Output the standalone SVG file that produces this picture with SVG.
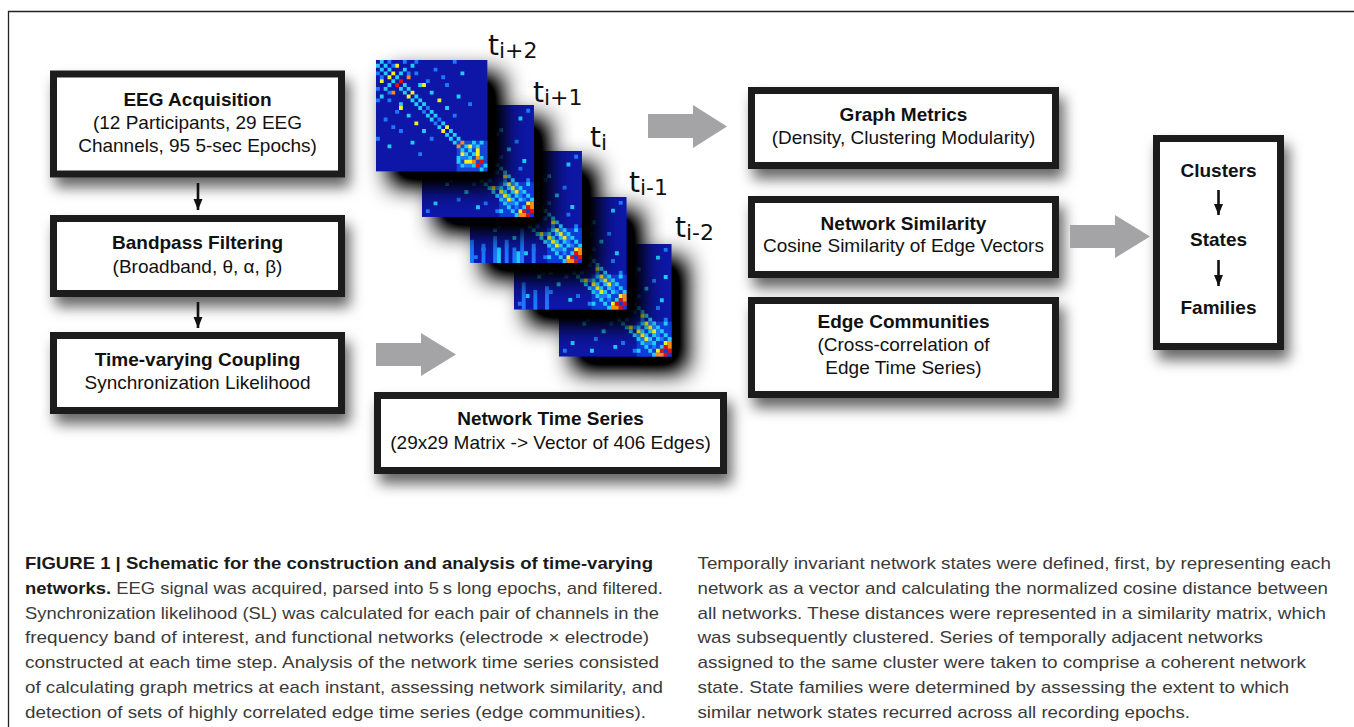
<svg xmlns="http://www.w3.org/2000/svg" xmlns:xlink="http://www.w3.org/1999/xlink" width="1354" height="727" viewBox="0 0 1354 727">
<style>
.box{fill:#fff;stroke:#1f1f1f;stroke-width:7}
.bt{font-family:"Liberation Sans",Arial,sans-serif;font-size:19px;font-weight:bold;fill:#111;text-anchor:middle}
.rt{font-family:"Liberation Sans",Arial,sans-serif;font-size:19px;fill:#111;text-anchor:middle}
.cap{font-family:"Liberation Sans Narrow","Liberation Sans",Arial,sans-serif;font-size:17px;fill:#3a3a3a}
.capb{font-weight:bold;fill:#1a1a1a}
.tl{font-family:"DejaVu Sans",Verdana,sans-serif;font-size:28px;fill:#111}
.ts{font-size:22px}
.blk{stroke:#111;stroke-width:2.6;fill:none}
.gray{fill:#a4a4a7}
.cC{stroke:#22ccff;stroke-width:1;fill:none}
.cY{stroke:#f2f020;stroke-width:1;fill:none}
.cL{stroke:#1e78ff;stroke-width:1;fill:none}
.cO{stroke:#ff8a10;stroke-width:1;fill:none}
.cR{stroke:#e81010;stroke-width:1;fill:none}
.mbg{fill:#0816a6}
</style>
<defs>
<filter id="bshadow" x="-20%" y="-30%" width="150%" height="190%">
<feDropShadow dx="5" dy="10" stdDeviation="7" flood-color="#000" flood-opacity="0.6"/>
</filter>
<filter id="mshadow" x="-25%" y="-25%" width="190%" height="190%">
<feGaussianBlur in="SourceAlpha" stdDeviation="12" result="b"/>
<feOffset in="b" dx="14" dy="14" result="o"/>
<feComponentTransfer in="o" result="s"><feFuncA type="linear" slope="1.45"/></feComponentTransfer>
<feMerge><feMergeNode in="s"/><feMergeNode in="SourceGraphic"/></feMerge>
</filter>
<marker id="ah" markerUnits="userSpaceOnUse" markerWidth="12" markerHeight="12" viewBox="0 0 12 10" refX="11" refY="5" orient="auto">
<path d="M0,0.5 L11,5 L0,9.5 z" fill="#111"/>
</marker>
<g id="patA">
<rect x="21" y="21" width="8" height="8" fill="#1244d8"/>
<path class="cL" d="M7 0.5h1M0 7.5h1M10 3.5h1M3 10.5h1M13 5.5h1M5 13.5h1M13 12.5h1M12 13.5h1M16 15.5h1M15 16.5h1M20 14.5h1M14 20.5h1M15 2.5h1M2 15.5h1M20 0.5h1M0 20.5h1M18 6.5h1M6 18.5h1M24 11.5h1M11 24.5h1M22 25.5h2M25 22.5h1M23 27.5h2M4 1.5h1M1 4.5h1M8 3.5h1M3 8.5h1M17 4.5h1M4 17.5h1M0 3.5h1M3 0.5h1M0 10.5h1M10 0.5h1"/>
<path class="cC" d="M2 1.5h1M1 2.5h1M3 2.5h1M2 3.5h1M9 1.5h1M1 9.5h1M7 2.5h1M2 7.5h1M5 4.5h1M4 5.5h1M7 6.5h1M6 7.5h1M8 7.5h1M7 8.5h1M10 9.5h1M9 10.5h1M14 8.5h1M8 14.5h1M11 10.5h1M10 11.5h1M12 11.5h1M11 12.5h1M14 13.5h1M13 14.5h1M15 14.5h1M14 15.5h1M18 12.5h1M12 18.5h1M17 16.5h1M16 17.5h1M19 18.5h1M18 19.5h1M20 19.5h1M19 20.5h1M21 20.5h1M20 21.5h1M23 22.5h1M22 23.5h1M24 23.5h1M23 24.5h1M25 24.5h1M24 25.5h1M28 27.5h1M27 28.5h1M27 25.5h1M25 27.5h1M25 21.5h1M21 25.5h1M22 3.5h1M3 22.5h1M21 9.5h1M9 21.5h1M22 27.5h1M21 26.5h1M26 22.5h1M27 21.5h1M0 1.5h1M1 0.5h1M6 3.5h1M3 6.5h1M11 6.5h1M6 11.5h1"/>
<path class="cY" d="M5 1.5h1M1 5.5h1M4 3.5h1M3 4.5h1M12 6.5h1M6 12.5h1M9 8.5h1M8 9.5h1M16 10.5h1M10 16.5h1M18 17.5h1M17 18.5h1M24 22.5h1M22 24.5h1M26 23.5h1M23 26.5h1M26 24.5h1M24 26.5h1"/>
<path class="cO" d="M8 4.5h1M4 8.5h1M22 21.5h1M21 22.5h1M26 25.5h1M25 26.5h1"/>
<path class="cR" d="M6 5.5h1M5 6.5h1M27 26.5h1M26 27.5h1"/>
</g>
<g id="patB">
<rect x="20" y="20" width="9" height="9" fill="#0f3cd8"/>
<path class="cL" d="M10 2.5h1M2 10.5h1M15 4.5h1M4 15.5h1M19 7.5h1M7 19.5h1M24 9.5h1M9 24.5h1M27 1.5h1M1 27.5h1M20 13.5h1M13 20.5h1M25 16.5h1M16 25.5h1M27 19.5h1M19 27.5h1M16 11.5h1M11 16.5h1M12 0.5h1M0 12.5h1M25 22.5h1M22 25.5h1M24 21.5h1M21 24.5h1M25 23.5h1M23 25.5h1M26 24.5h1M24 26.5h1M23 20.5h1M20 23.5h1M21 19.5h1M19 21.5h1M19 17.5h1M17 19.5h1"/>
<path class="cC" d="M21 20.5h1M20 21.5h1M22 21.5h1M21 22.5h1M23 22.5h1M22 23.5h1M24 23.5h1M23 24.5h1M25 24.5h1M24 25.5h1M23 19.5h1M19 23.5h1M24 20.5h1M20 24.5h1M22 18.5h1M18 22.5h1M25 21.5h1M21 25.5h1M26 22.5h1M22 26.5h1M20 16.5h1M16 20.5h1M19 15.5h1M15 19.5h1M21 17.5h1M17 21.5h1M16 12.5h1M12 16.5h1M14 10.5h1M10 14.5h1M17 13.5h1M13 17.5h1M9 5.5h1M5 9.5h1M12 8.5h1M8 12.5h1M25 3.5h1M3 25.5h1M20 6.5h1M6 20.5h1M27 23.5h1M23 27.5h1M28 24.5h1M24 28.5h1M22 11.5h1M11 22.5h1M26 14.5h1M14 26.5h1M26 26.5h1M20 27.5h1M27 20.5h1"/>
<path class="cY" d="M24 22.5h1M22 24.5h1M23 21.5h1M21 23.5h1M21 18.5h1M18 21.5h1M27 25.5h1M25 27.5h1M22 20.5h1M20 22.5h1M18 14.5h1M14 18.5h1"/>
<path class="cO" d="M28 26.5h1M26 28.5h1M28 25.5h1M25 28.5h1"/>
<path class="cR" d="M27 26.5h1M26 27.5h1M28 27.5h1M27 28.5h1"/>
</g>
</defs>
<rect width="1354" height="727" fill="#fff"/>
<g id="frame">
<path d="M8.5 727V11.5H1354" fill="none" stroke="#222" stroke-width="1.3"/>
</g>
<g id="matrices">
<g id="m5" filter="url(#mshadow)"><g transform="translate(559,244) scale(3.88)"><rect class="mbg" width="29" height="29"/><use xlink:href="#patB"/><path class="cC" d="M15 18.5h1M18 15.5h1M8 27.5h1M27 8.5h1"/></g></g>
<g id="m4" filter="url(#mshadow)"><g transform="translate(514,197) scale(3.88)"><rect class="mbg" width="29" height="29"/><use xlink:href="#patB"/><path class="cL" d="M2.5 22v7M5.5 24v5M8.5 23v6"/><path class="cC" d="M9 19.5h1M19 9.5h1"/></g></g>
<g id="m3" filter="url(#mshadow)"><g transform="translate(470,151) scale(3.86)"><rect class="mbg" width="29" height="29"/><use xlink:href="#patB"/><path class="cL" d="M0.5 23v6M3.5 24v5M6.5 22v7M9.5 23v6M11.5 25v4M13.5 21v8M16.5 24v5"/><path class="cC" d="M12.5 26v3M7.5 25v4"/></g></g>
<g id="m2" filter="url(#mshadow)"><g transform="translate(422,105) scale(3.86)"><rect class="mbg" width="29" height="29"/><use xlink:href="#patB"/></g></g>
<g id="m1" filter="url(#mshadow)"><g transform="translate(376,60) scale(3.84)"><rect class="mbg" width="29" height="29"/><use xlink:href="#patA"/></g></g>
<text class="tl" x="488" y="55">t<tspan class="ts" dy="3">i+2</tspan></text>
<text class="tl" x="533" y="102">t<tspan class="ts" dy="3">i+1</tspan></text>
<text class="tl" x="590" y="147">t<tspan class="ts" dy="3">i</tspan></text>
<text class="tl" x="629" y="192">t<tspan class="ts" dy="3">i-1</tspan></text>
<text class="tl" x="675" y="237">t<tspan class="ts" dy="3">i-2</tspan></text>
</g>
<g id="eeg">
<rect class="box" x="53.5" y="74" width="288" height="100" filter="url(#bshadow)"/>
<text class="bt" x="197.5" y="105.5">EEG Acquisition</text>
<text class="rt" x="197.5" y="128.5">(12 Participants, 29 EEG</text>
<text class="rt" x="197.5" y="151.5">Channels, 95 5-sec Epochs)</text>
</g>
<g id="bandpass">
<rect class="box" x="53.5" y="218.5" width="288" height="75" filter="url(#bshadow)"/>
<text class="bt" x="197.5" y="249">Bandpass Filtering</text>
<text class="rt" x="197.5" y="272.5">(Broadband, θ, α, β)</text>
</g>
<g id="coupling">
<rect class="box" x="53.5" y="335.5" width="288" height="75" filter="url(#bshadow)"/>
<text class="bt" x="197.5" y="366">Time-varying Coupling</text>
<text class="rt" x="197.5" y="389">Synchronization Likelihood</text>
</g>
<g id="nts">
<rect class="box" x="377.5" y="395.5" width="346" height="75" filter="url(#bshadow)"/>
<text class="bt" x="550.5" y="425">Network Time Series</text>
<text class="rt" x="550.5" y="448.5">(29x29 Matrix -&gt; Vector of 406 Edges)</text>
</g>
<g id="graphmetrics">
<rect class="box" x="751.5" y="90.5" width="304" height="75" filter="url(#bshadow)"/>
<text class="bt" x="903.5" y="120.5">Graph Metrics</text>
<text class="rt" x="903.5" y="143.5">(Density, Clustering Modularity)</text>
</g>
<g id="netsim">
<rect class="box" x="751.5" y="199.5" width="304" height="75" filter="url(#bshadow)"/>
<text class="bt" x="903.5" y="229.5">Network Similarity</text>
<text class="rt" x="903.5" y="252">Cosine Similarity of Edge Vectors</text>
</g>
<g id="edgecomm">
<rect class="box" x="751.5" y="300.5" width="304" height="94" filter="url(#bshadow)"/>
<text class="bt" x="903.5" y="327.5">Edge Communities</text>
<text class="rt" x="903.5" y="350.5">(Cross-correlation of</text>
<text class="rt" x="903.5" y="373.5">Edge Time Series)</text>
</g>
<g id="clusters">
<rect class="box" x="1156.5" y="138.5" width="124" height="208" filter="url(#bshadow)"/>
<text class="bt" x="1218.5" y="177">Clusters</text>
<text class="bt" x="1218.5" y="246">States</text>
<text class="bt" x="1218.5" y="314">Families</text>
</g>
<g id="connectors">
<line class="blk" x1="198" y1="183" x2="198" y2="210" marker-end="url(#ah)"/>
<line class="blk" x1="198" y1="302" x2="198" y2="328" marker-end="url(#ah)"/>
<line class="blk" x1="1218.5" y1="190" x2="1218.5" y2="215" marker-end="url(#ah)"/>
<line class="blk" x1="1218.5" y1="260" x2="1218.5" y2="286" marker-end="url(#ah)"/>
<polygon class="gray" points="376,343 421,343 421,333 456,354.5 421,376 421,366 376,366"/>
<polygon class="gray" points="648,114 693,114 693,105 727,126.5 693,148 693,138 648,138"/>
<polygon class="gray" points="1070,225 1115,225 1115,215 1150,236.5 1115,258 1115,248 1070,248"/>
</g>
<g id="caption">
<text class="cap capb" x="25" y="569" textLength="628" lengthAdjust="spacingAndGlyphs">FIGURE 1 | Schematic for the construction and analysis of time-varying</text>
<text class="cap" x="25" y="594" textLength="638" lengthAdjust="spacingAndGlyphs"><tspan class="capb">networks.</tspan> EEG signal was acquired, parsed into 5&#8201;s long epochs, and filtered.</text>
<text class="cap" x="25" y="619" textLength="634" lengthAdjust="spacingAndGlyphs">Synchronization likelihood (SL) was calculated for each pair of channels in the</text>
<text class="cap" x="25" y="643" textLength="624" lengthAdjust="spacingAndGlyphs">frequency band of interest, and functional networks (electrode &#215; electrode)</text>
<text class="cap" x="25" y="668" textLength="634" lengthAdjust="spacingAndGlyphs">constructed at each time step. Analysis of the network time series consisted</text>
<text class="cap" x="25" y="693" textLength="638" lengthAdjust="spacingAndGlyphs">of calculating graph metrics at each instant, assessing network similarity, and</text>
<text class="cap" x="25" y="718" textLength="621" lengthAdjust="spacingAndGlyphs">detection of sets of highly correlated edge time series (edge communities).</text>
<text class="cap" x="697.5" y="569" textLength="633.5" lengthAdjust="spacingAndGlyphs">Temporally invariant network states were defined, first, by representing each</text>
<text class="cap" x="697.5" y="594" textLength="630.5" lengthAdjust="spacingAndGlyphs">network as a vector and calculating the normalized cosine distance between</text>
<text class="cap" x="697.5" y="619" textLength="628.5" lengthAdjust="spacingAndGlyphs">all networks. These distances were represented in a similarity matrix, which</text>
<text class="cap" x="697.5" y="643" textLength="565.5" lengthAdjust="spacingAndGlyphs">was subsequently clustered. Series of temporally adjacent networks</text>
<text class="cap" x="697.5" y="668" textLength="608.5" lengthAdjust="spacingAndGlyphs">assigned to the same cluster were taken to comprise a coherent network</text>
<text class="cap" x="697.5" y="693" textLength="591.5" lengthAdjust="spacingAndGlyphs">state. State families were determined by assessing the extent to which</text>
<text class="cap" x="697.5" y="718" textLength="492.5" lengthAdjust="spacingAndGlyphs">similar network states recurred across all recording epochs.</text>
</g>
</svg>
